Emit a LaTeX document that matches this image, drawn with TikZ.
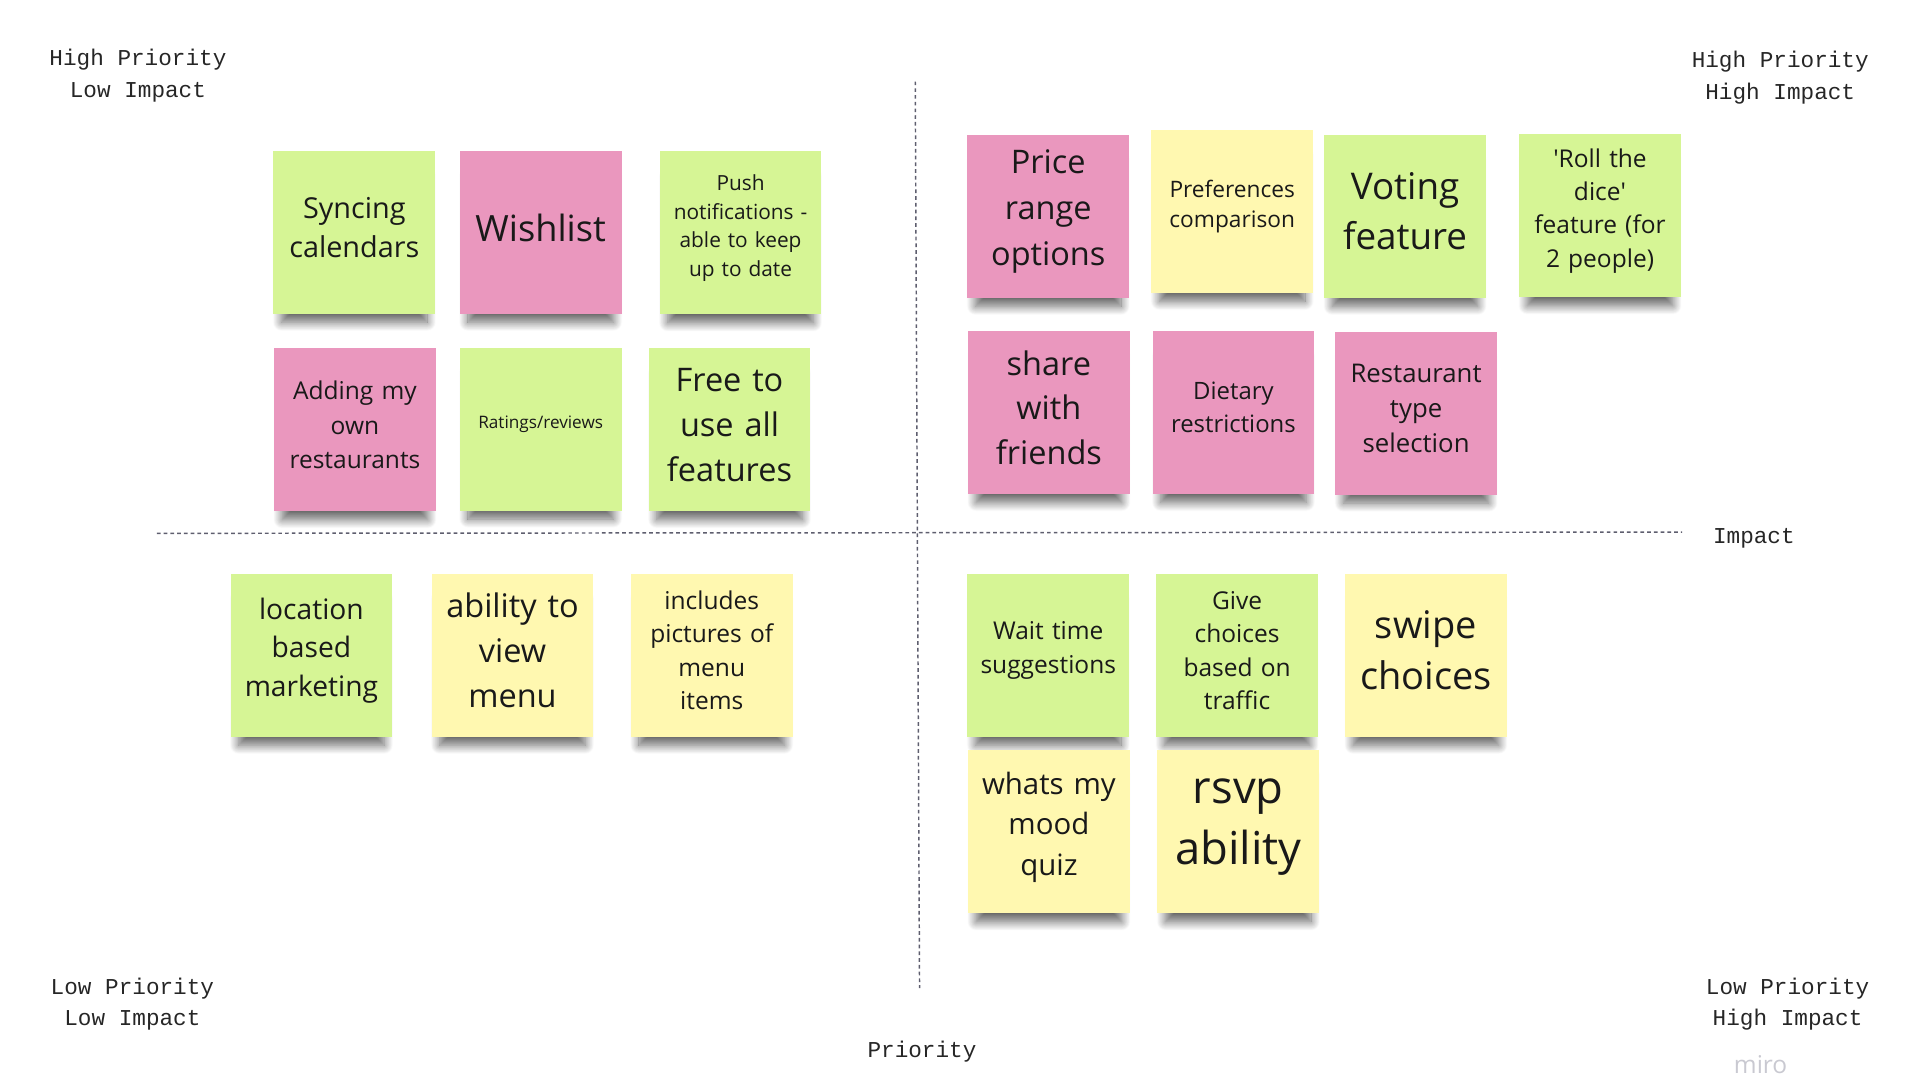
\documentclass[tikz,border=0pt]{standalone}
\usepackage{fontspec}
\setmainfont{Open Sans}
\newfontfamily\labelfont{Liberation Mono}
\usepackage{xcolor}
\usetikzlibrary{positioning,shadows.blur}

\definecolor{stickygreen}{HTML}{D6F595}
\definecolor{stickypink}{HTML}{EA97BE}
\definecolor{stickyyellow}{HTML}{FFF8B0}
\definecolor{axisgray}{HTML}{5E5E6E}
\definecolor{mirogray}{HTML}{C9C9D1}

\begin{document}
\begin{tikzpicture}[
    x=1pt, y=-1pt,
    note/.style={rectangle, minimum width=132pt, minimum height=133pt, text width=124pt, align=center, inner sep=0pt, text=black!90,
        execute at end node={\endgraf\vspace*{8pt}},
        blur shadow={shadow xshift=0pt, shadow yshift=-15pt, shadow scale=0.9, shadow blur radius=8pt, shadow blur steps=16, shadow opacity=60}},
    gnote/.style={note, fill=stickygreen},
    pnote/.style={note, fill=stickypink},
    ynote/.style={note, fill=stickyyellow},
    sz/.style 2 args={font=\fontsize{#1}{#2}\selectfont},
    quad/.style={align=center, font=\labelfont\fontsize{18.5}{26}\selectfont, text=black!85},
    divider/.style={draw=axisgray, line width=1.2pt, dash pattern=on 3pt off 2.5pt}
]
\useasboundingbox (0,0) rectangle (1566,881);

% Axes
\coordinate (ptop) at (746.5,66.5);
\coordinate (pbot) at (750,806);
\coordinate (ileft) at (128,435);
\coordinate (iright) at (1372,434);
\draw[divider] (ptop) -- (pbot);
\draw[divider] (ileft) -- (iright);

% Quadrant labels
\node[quad] (hplow) at (112.5,61.5) {High Priority\\Low Impact};
\node[quad] (hphigh) at (1452,63.5) {High Priority\\High Impact};
\node[quad] (lplow) at (108,819) {Low Priority\\Low Impact};
\node[quad] (lphigh) at (1458,819) {Low Priority\\High Impact};
\node[quad] (impact) at (1430.5,439) {Impact};
\node[quad] (priority) at (752,858) {Priority};
\node[font=\fontsize{20}{24}\selectfont, text=mirogray] (miro) at (1436,868) {miro};

% High priority, low impact
\node[gnote, sz={23.5}{32}] (sync) at (289,189.5) {Syncing\\calendars};
\node[pnote, sz={29.5}{40}] (wish) at (441,189.5) {Wishlist};
\node[gnote, sz={17}{23.3}] (push) at (604,190) {Push\\notifications -\\able to keep\\up to date};
\node[pnote, sz={20}{28}] (adding) at (289.5,350.5) {Adding my\\own\\restaurants};
\node[gnote, sz={14}{19}] (ratings) at (441,350) {Ratings/reviews};
\node[gnote, sz={26.5}{36.5}] (free) at (595,350.5) {Free to\\use all\\features};

% High priority, high impact
\node[pnote, sz={26.5}{37.5}] (price) at (855,176.5) {Price\\range\\options};
\node[ynote, sz={18.5}{25}] (prefs) at (1005,172.5) {Preferences\\comparison};
\node[gnote, sz={30}{41}] (voting) at (1146,176.5) {Voting\\feature};
\node[gnote, sz={20}{27.3}] (roll) at (1305,176) {\textquotesingle Roll the\\dice\textquotesingle\\feature (for\\2 people)};
\node[pnote, sz={26.5}{36.5}] (share) at (855.5,336.5) {share\\with\\friends};
\node[pnote, sz={19.5}{27}] (dietary) at (1006,336.5) {Dietary\\restrictions};
\node[pnote, sz={21}{28.5}] (resttype) at (1155,337) {Restaurant\\type\\selection};

% Low priority, low impact
\node[gnote, sz={23}{31.5}] (location) at (254,534.5) {location\\based\\marketing};
\node[ynote, sz={26.5}{37}] (viewmenu) at (418,534.5) {ability to\\view\\menu};
\node[ynote, sz={20}{27.3}] (pictures) at (580.5,534.5) {includes\\pictures of\\menu\\items};

% Low priority, high impact
\node[gnote, sz={20}{27}] (waittime) at (855,534.5) {Wait time\\suggestions};
\node[gnote, sz={20}{27.3}] (traffic) at (1009,534.5) {Give\\choices\\based on\\traffic};
\node[ynote, sz={31}{42}] (swipe) at (1163,534.5) {swipe\\choices};
\node[ynote, sz={24}{33}] (mood) at (855.5,678.5) {whats my\\mood\\quiz};
\node[ynote, sz={37}{50}] (rsvp) at (1010,678.5) {rsvp\\ability};

\end{tikzpicture}
\end{document}
